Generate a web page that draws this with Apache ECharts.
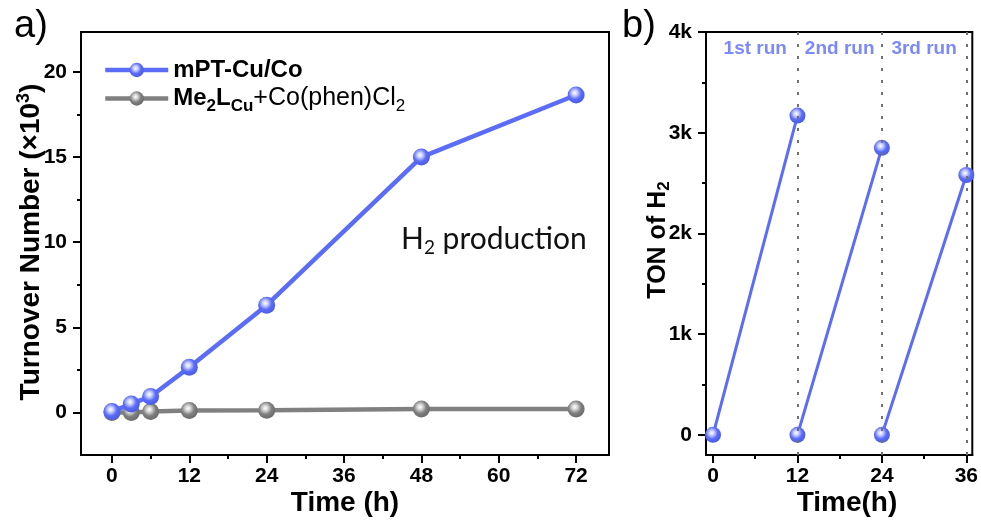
<!DOCTYPE html>
<html>
<head>
<meta charset="utf-8">
<script src="https://cdn.jsdelivr.net/npm/echarts@6/dist/echarts.min.js"></script>
<style>
  html, body { margin: 0; padding: 0; background: #fff; }
  #chart { width: 981px; height: 520px; }
</style>
</head>
<body>
<div id="chart"></div>
<script>
// Panel a: turnover number vs time (x10^3)
const timeA = [0, 3, 6, 12, 24, 48, 72];
const tonCuCo = [0.05, 0.5, 0.94, 2.65, 6.3, 15.0, 18.65];
const tonRef = [0, 0, 0.05, 0.12, 0.13, 0.2, 0.2];
const ticksA_x = [0, 12, 24, 36, 48, 60, 72];
const minorA_x = [6, 18, 30, 42, 54, 66];
const ticksA_y = [0, 5, 10, 15, 20];
const minorA_y = [2.5, 7.5, 12.5, 17.5];

// Panel b: TON of H2 over three consecutive runs
const run1Time = [0, 12], run1Ton = [0, 3170];
const run2Time = [12, 24], run2Ton = [0, 2850];
const run3Time = [24, 36], run3Ton = [0, 2580];
const runEnds = [12, 24, 36];
const ticksB_x = [0, 12, 24, 36];
const minorB_x = [6, 18, 30];
const ticksB_y = [0, 1000, 2000, 3000, 4000];
const minorB_y = [500, 1500, 2500, 3500];
const runLabels = ['1st run', '2nd run', '3rd run'];
const runLabelX = [6, 18, 30];

const BLUE = '#5b6cf7';
const GREY = '#808080';
const FONT = '"Liberation Sans", Arial, sans-serif';

function ball(base, dark) {
  return {
    type: 'radial', x: 0.42, y: 0.38, r: 0.62,
    colorStops: [
      { offset: 0, color: '#ffffff' },
      { offset: 0.25, color: base === BLUE ? '#c9cffd' : '#d6d6d6' },
      { offset: 0.6, color: base },
      { offset: 1, color: dark }
    ]
  };
}
const pairs = (xs, ys) => xs.map((x, i) => [x, ys[i]]);

const chart = echarts.init(document.getElementById('chart'), null, { renderer: 'canvas' });

const tickLabel = { fontFamily: FONT, fontWeight: 'bold', fontSize: 21, color: '#000' };
const axisLineStyle = { lineStyle: { color: '#000', width: 2 } };

function mainX(grid, min, max, ticks) {
  return {
    type: 'value', gridIndex: grid, min, max, position: 'bottom',
    axisLine: Object.assign({ show: true, onZero: false }, axisLineStyle),
    axisTick: { show: true, customValues: ticks, length: 8, lineStyle: { color: '#000', width: 2 } },
    axisLabel: Object.assign({ customValues: ticks, margin: 11 }, tickLabel),
    splitLine: { show: false }
  };
}
function minorX(grid, min, max, ticks) {
  return {
    type: 'value', gridIndex: grid, min, max, position: 'bottom',
    axisLine: { show: false, onZero: false },
    axisTick: { show: true, customValues: ticks, length: 4, lineStyle: { color: '#000', width: 2 } },
    axisLabel: { show: false },
    splitLine: { show: false }
  };
}
function mainY(grid, min, max, ticks, fmt) {
  return {
    type: 'value', gridIndex: grid, min, max, position: 'left',
    axisLine: Object.assign({ show: true, onZero: false }, axisLineStyle),
    axisTick: { show: true, customValues: ticks, length: 8, lineStyle: { color: '#000', width: 2 } },
    axisLabel: Object.assign({ customValues: ticks, margin: 14, formatter: fmt }, tickLabel),
    splitLine: { show: false }
  };
}
function minorY(grid, min, max, ticks) {
  return {
    type: 'value', gridIndex: grid, min, max, position: 'left',
    axisLine: { show: false, onZero: false },
    axisTick: { show: true, customValues: ticks, length: 4, lineStyle: { color: '#000', width: 2 } },
    axisLabel: { show: false },
    splitLine: { show: false }
  };
}

const option = {
  backgroundColor: '#fff',
  animation: false,
  grid: [
    { left: 81, top: 32, width: 528, height: 423, show: true, borderColor: '#000', borderWidth: 2, containLabel: false },
    { left: 706, top: 32, width: 269, height: 423, show: true, borderColor: '#000', borderWidth: 2, containLabel: false }
  ],
  xAxis: [
    mainX(0, -4.8, 77.1, ticksA_x),
    minorX(0, -4.8, 77.1, minorA_x),
    mainX(1, -1, 36.85, ticksB_x),
    minorX(1, -1, 36.85, minorB_x)
  ],
  yAxis: [
    mainY(0, -2.5, 22.35, ticksA_y, v => String(v)),
    minorY(0, -2.5, 22.35, minorA_y),
    mainY(1, -200, 4000, ticksB_y, v => (v === 0 ? '0' : (v / 1000) + 'k')),
    minorY(1, -200, 4000, minorB_y)
  ],
  legend: {
    show: true,
    orient: 'vertical',
    left: 103, top: 58, padding: 0,
    itemWidth: 63, itemHeight: 18, itemGap: 4,
    lineStyle: { width: 4.5 },
    data: ['mPT-Cu/Co', 'Me2LCu+Co(phen)Cl2'],
    formatter: function (name) {
      if (name === 'mPT-Cu/Co') return '{b|mPT-Cu/Co}';
      return '{b|Me}{bs|2}{b|L}{bs|Cu}{r|+Co(phen)Cl}{rs|2}';
    },
    textStyle: {
      fontFamily: FONT, color: '#000',
      rich: {
        b: { fontFamily: FONT, fontWeight: 'bold', fontSize: 24, color: '#000', lineHeight: 32 },
        r: { fontFamily: FONT, fontWeight: 'normal', fontSize: 25, color: '#000', lineHeight: 32 },
        bs: { fontFamily: FONT, fontWeight: 'bold', fontSize: 17, color: '#000', lineHeight: 16, verticalAlign: 'bottom' },
        rs: { fontFamily: FONT, fontWeight: 'normal', fontSize: 17, color: '#000', lineHeight: 16, verticalAlign: 'bottom' }
      }
    }
  },
  series: [
    {
      name: 'Me2LCu+Co(phen)Cl2', type: 'line', xAxisIndex: 0, yAxisIndex: 0,
      data: pairs(timeA, tonRef), symbol: 'circle', symbolSize: 17,
      lineStyle: { color: GREY, width: 4.5 },
      itemStyle: { color: ball(GREY, '#6a6a6a') },
      z: 2
    },
    {
      name: 'mPT-Cu/Co', type: 'line', xAxisIndex: 0, yAxisIndex: 0,
      data: pairs(timeA, tonCuCo), symbol: 'circle', symbolSize: 17,
      lineStyle: { color: BLUE, width: 4.5 },
      itemStyle: { color: ball(BLUE, '#4a5be6') },
      z: 3
    },
    {
      type: 'line', xAxisIndex: 2, yAxisIndex: 2, data: [], silent: true,
      markLine: {
        symbol: 'none', silent: true, label: { show: false },
        lineStyle: { color: '#707070', type: [3, 9], width: 2 },
        data: runEnds.map(x => ({ xAxis: x }))
      }
    },
    ...[[run1Time, run1Ton], [run2Time, run2Ton], [run3Time, run3Ton]].map(([t, v]) => ({
      type: 'line', xAxisIndex: 2, yAxisIndex: 2,
      data: pairs(t, v), symbol: 'circle', symbolSize: 16,
      lineStyle: { color: BLUE, width: 3 },
      itemStyle: { color: ball(BLUE, '#4a5be6') },
      z: 3
    })),
    {
      type: 'scatter', xAxisIndex: 2, yAxisIndex: 2, silent: true,
      data: runLabelX.map(x => [x, 3830]), symbolSize: 0,
      label: {
        show: true, position: 'inside',
        formatter: p => runLabels[p.dataIndex],
        fontFamily: FONT, fontWeight: 'bold', fontSize: 19, color: BLUE
      }
    }
  ],
  graphic: [
    { type: 'text', left: 14, top: 8, style: { text: 'a)', font: '38px ' + FONT, fill: '#000' } },
    { type: 'text', left: 622, top: 8, style: { text: 'b)', font: '38px ' + FONT, fill: '#000' } },
    {
      type: 'text', x: 31, y: 242, rotation: Math.PI / 2,
      style: {
        text: '{t|Turnover Number (×10}{s|3}{t|)}', align: 'center', verticalAlign: 'middle',
        rich: {
          t: { fontFamily: FONT, fontWeight: 'bold', fontSize: 28, fill: '#000', lineHeight: 32 },
          s: { fontFamily: FONT, fontWeight: 'bold', fontSize: 18, fill: '#000', lineHeight: 18, verticalAlign: 'top' }
        }
      }
    },
    {
      type: 'text', x: 658, y: 240, rotation: Math.PI / 2,
      style: {
        text: '{t|TON of H}{s|2}', align: 'center', verticalAlign: 'middle',
        rich: {
          t: { fontFamily: FONT, fontWeight: 'bold', fontSize: 25, fill: '#000', lineHeight: 30 },
          s: { fontFamily: FONT, fontWeight: 'bold', fontSize: 17, fill: '#000', lineHeight: 17, verticalAlign: 'bottom' }
        }
      }
    },
    {
      type: 'text', x: 345, y: 503,
      style: { text: 'Time (h)', font: 'bold 28px ' + FONT, fill: '#000', align: 'center', verticalAlign: 'middle' }
    },
    {
      type: 'text', x: 847, y: 503,
      style: { text: 'Time(h)', font: 'bold 28px ' + FONT, fill: '#000', align: 'center', verticalAlign: 'middle' }
    },
    {
      type: 'text', x: 401, y: 239,
      style: {
        text: '{t|H}{s|2}{t| production}', verticalAlign: 'middle',
        rich: {
          t: { fontFamily: 'Lato, "Noto Sans", sans-serif', fontSize: 30, fill: '#111', lineHeight: 36 },
          s: { fontFamily: 'Lato, "Noto Sans", sans-serif', fontSize: 19, fill: '#111', lineHeight: 19, verticalAlign: 'bottom' }
        }
      }
    }
  ]
};

chart.setOption(option);
</script>
</body>
</html>
